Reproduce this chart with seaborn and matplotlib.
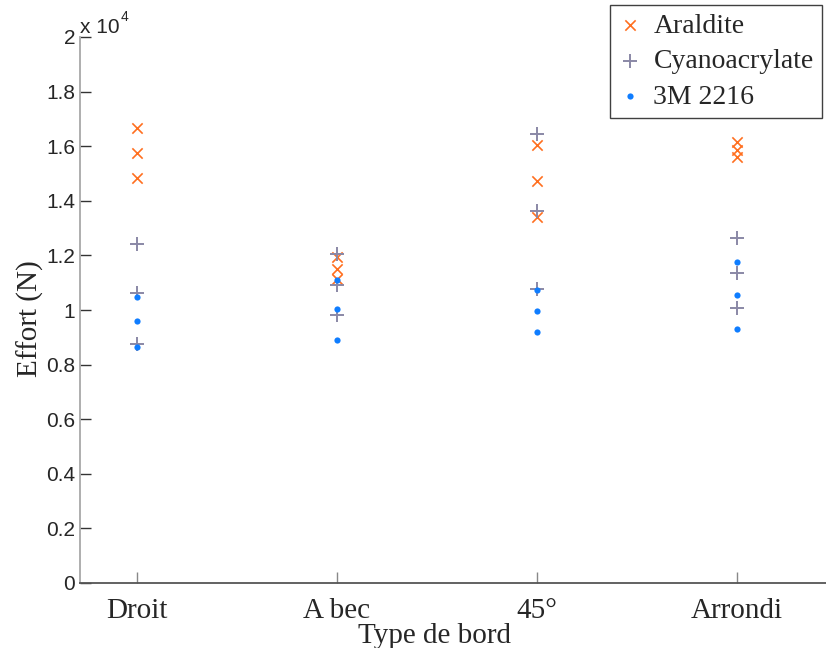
import numpy as np
import pandas as pd
import matplotlib
matplotlib.use("Agg")
import matplotlib.pyplot as plt
from matplotlib.ticker import FuncFormatter, FixedLocator
import seaborn as sns

# Edge types (x categories)
edge_types = ["Droit", "A bec", "45°", "Arrondi"]

# Failure load (N), three specimens per edge type
araldite = [[16660, 15740, 14830],
            [11940, 11510, 11140],
            [16060, 14740, 13410],
            [16160, 15850, 15610]]
cyanoacrylate = [[12400, 10610, 8770],
                 [12060, 10900, 9835],
                 [16430, 13620, 10780],
                 [12640, 11350, 10070]]
m3_2216 = [[10460, 9580, 8660],
           [11110, 10020, 8910],
           [10740, 9970, 9190],
           [11740, 10540, 9320]]

series_names = ["Araldite", "Cyanoacrylate", "3M 2216"]
series_values = [araldite, cyanoacrylate, m3_2216]

y_ticks = [0, 2000, 4000, 6000, 8000, 10000, 12000, 14000, 16000, 18000, 20000]

rows = []
for name, vals in zip(series_names, series_values):
    for i, edge in enumerate(edge_types):
        for v in vals[i]:
            rows.append({"Adhesif": name, "pos": i, "Effort": v})
df = pd.DataFrame(rows)

sns.set_style("ticks")
plt.rcParams["font.family"] = ["Liberation Sans", "DejaVu Sans"]
serif = ["Liberation Serif", "DejaVu Serif"]

fig = plt.figure(figsize=(8.26, 6.48), dpi=100)
ax = fig.add_axes([79.5 / 826, 1 - 583 / 648, 1 - 79.5 / 826, (583 - 37) / 648])

styles = {
    "Araldite": dict(marker="x", s=55, color="#ff6f1f", linewidth=1.2),
    "Cyanoacrylate": dict(marker="+", s=110, color="#8a88a6", linewidth=1.4),
    "3M 2216": dict(marker="o", s=20, color="#0f7dff", linewidth=0),
}

for name in series_names:
    st = styles[name]
    sub = df[df["Adhesif"] == name]
    sns.scatterplot(data=sub, x="pos", y="Effort", ax=ax, label=name,
                    marker=st["marker"], s=st["s"], color=st["color"],
                    linewidth=st["linewidth"], edgecolor=st["color"] if st["marker"] == "o" else None,
                    zorder=3)

ax.set_xlim(-0.2875, 3.445)
ax.set_ylim(0, 20000)
ax.xaxis.set_major_locator(FixedLocator(range(len(edge_types))))
ax.set_xticklabels(edge_types, family=serif, fontsize=21)
ax.yaxis.set_major_locator(FixedLocator(y_ticks))
ax.yaxis.set_major_formatter(FuncFormatter(lambda v, p: "%g" % (v / 1e4)))
ax.tick_params(axis="y", direction="in", length=8, width=1, color="#333333",
               labelsize=15, pad=3)
ax.tick_params(axis="x", direction="in", length=8, width=1, color="#888888", pad=11)

for side in ["top", "right"]:
    ax.spines[side].set_visible(False)
ax.spines["left"].set_color("#a8a8a8")
ax.spines["bottom"].set_color("#555555")
ax.spines["left"].set_linewidth(1.3)
ax.spines["bottom"].set_linewidth(1.3)

ax.set_xlabel("Type de bord", family=serif, fontsize=21)
ax.set_ylabel("Effort (N)", family=serif, fontsize=21)
ax.xaxis.set_label_coords(0.476, -0.074)
ax.yaxis.set_label_coords(-0.047, 0.485)

# Scale factor of the y axis
ax.text(0.0, 1.0, "x 10", transform=ax.transAxes, ha="left", va="bottom",
        fontsize=15)
ax.text(0.0545, 1.024, "4", transform=ax.transAxes, ha="left", va="bottom",
        fontsize=10)

leg = ax.legend(loc="upper right", bbox_to_anchor=(822 / 826, 1 - 5 / 648),
                bbox_transform=fig.transFigure, frameon=True, fancybox=False,
                framealpha=1, edgecolor="#404040",
                prop={"family": serif, "size": 20},
                handlelength=0.8, handletextpad=0.45, labelspacing=0.36,
                borderpad=0.3, borderaxespad=0)
leg.get_frame().set_linewidth(1.0)

fig.savefig("out.png", dpi=100)
